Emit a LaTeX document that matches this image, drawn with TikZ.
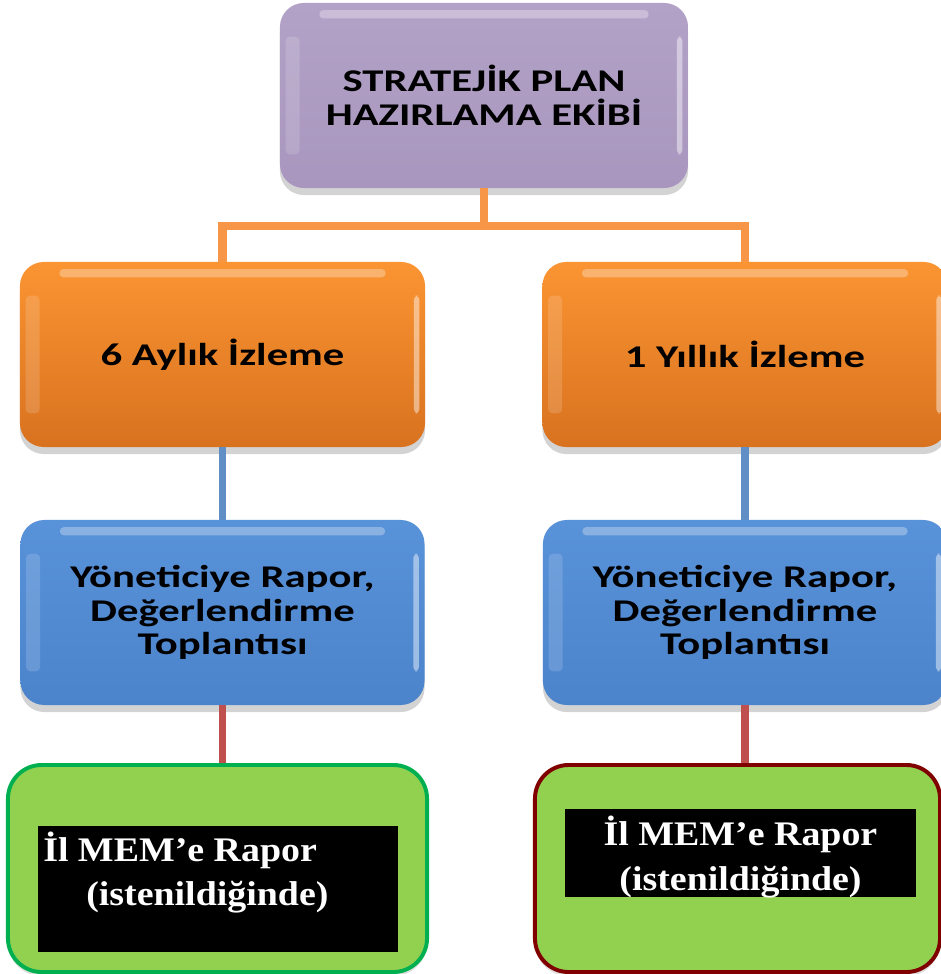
\documentclass[tikz,border=0pt]{standalone}
\usepackage{fontspec}
\newfontfamily\calfont[FakeStretch=1.35]{Carlito}
\newfontfamily\cambfont[FakeStretch=1.1]{Liberation Serif}
\usetikzlibrary{shadows,calc}
\definecolor{purp}{HTML}{B3A2C7}
\definecolor{purpd}{HTML}{A896BE}
\definecolor{orgt}{HTML}{FB9432}
\definecolor{orgb}{HTML}{D8721F}
\definecolor{blut}{HTML}{5892D8}
\definecolor{blub}{HTML}{4C84CC}
\definecolor{grnf}{HTML}{92D050}
\definecolor{grnb}{HTML}{00B050}
\definecolor{dred}{HTML}{800000}
\definecolor{lorg}{HTML}{F79646}
\definecolor{lblu}{HTML}{4F81BD}
\definecolor{lred}{HTML}{C0504D}
\tikzset{
  gloss/.style={rounded corners=17pt, drop shadow={shadow xshift=0pt,shadow yshift=-5pt,opacity=0.35},
    font=\calfont\bfseries\fontsize{22.5}{24}\selectfont, align=center, text=black,
    path picture={
      \fill[white,opacity=0.3,rounded corners=3pt] ([xshift=28pt,yshift=-5pt]path picture bounding box.north west) rectangle ([xshift=-28pt,yshift=-11pt]path picture bounding box.north east);
      \fill[white,opacity=0.45,rounded corners=3pt] ([xshift=-8pt,yshift=-24pt]path picture bounding box.north east) rectangle ([xshift=-4pt,yshift=24pt]path picture bounding box.south east);
      \fill[white,opacity=0.15,rounded corners=3pt] ([xshift=4pt,yshift=-24pt]path picture bounding box.north west) rectangle ([xshift=14pt,yshift=24pt]path picture bounding box.south west);
    }},
  topbox/.style={gloss, top color=purp, bottom color=purpd, minimum width=10.2cm, minimum height=4.625cm},
  orgbox/.style={gloss, top color=orgt, bottom color=orgb, minimum width=10.125cm, minimum height=4.625cm},
  blubox/.style={gloss, top color=blut, bottom color=blub, minimum width=10.1cm, minimum height=4.625cm},
  grnbox/.style={fill=grnf, line width=2.8pt, rounded corners=24pt, minimum height=5.175cm, drop shadow={shadow xshift=0pt,shadow yshift=-3pt,opacity=0.25}},
  blackbox/.style={fill=black, inner sep=0pt},
  memtext/.style={text=white, font=\cambfont\bfseries\fontsize{24.5}{32}\selectfont, inner sep=0pt},
  oline/.style={draw=lorg, line width=5.7pt},
  bline/.style={draw=lblu!90!white, line width=5pt},
  rline/.style={draw=lred, line width=5pt}
}
\begin{document}
\begin{tikzpicture}[x=0.025cm,y=-0.025cm]
\useasboundingbox (0,0) rectangle (941,974);
\coordinate (hbar) at (484,226);
\node[topbox] (top) at (484,95.5) {STRATEJİK PLAN\\HAZIRLAMA EKİBİ};
\node[orgbox] (o1) at (222.5,354.5) {6 Aylık İzleme};
\node[orgbox] (o2) at (745,354.5) {1 Yıllık İzleme};
\node[blubox] (b1) at (222.5,612.5) {Yöneticiye Rapor,\\Değerlendirme\\Toplantısı};
\node[blubox] (b2) at (745,612.5) {Yöneticiye Rapor,\\Değerlendirme\\Toplantısı};
\node[grnbox, draw=grnb, minimum width=10.475cm] (g1) at (217.5,868.5) {};
\node[grnbox, draw=dred, minimum width=10.125cm] (g2) at (737.5,868.5) {};
\node[blackbox, minimum width=9cm, minimum height=3.15cm] (k1) at (218,889) {};
\node[blackbox, minimum width=8.775cm, minimum height=2.2cm] (k2) at (740.5,853) {};
\node[memtext, anchor=base west] (m1a) at (43,861) {İl MEM’e Rapor};
\node[memtext, anchor=base west] (m1b) at (86,905) {(istenildiğinde)};
\node[memtext, align=center, anchor=north] (m2) at (740.5,816) {İl MEM’e Rapor\\(istenildiğinde)};
\draw[oline] (top.south) -- (hbar);
\draw[oline] (o1.north) |- (hbar) -| (o2.north);
\draw[bline] (o1.south) -- (b1.north);
\draw[bline] (o2.south) -- (b2.north);
\draw[rline] (b1.south) -- (b1.south |- g1.north);
\draw[rline] (b2.south) -- (b2.south |- g2.north);
\end{tikzpicture}
\end{document}
